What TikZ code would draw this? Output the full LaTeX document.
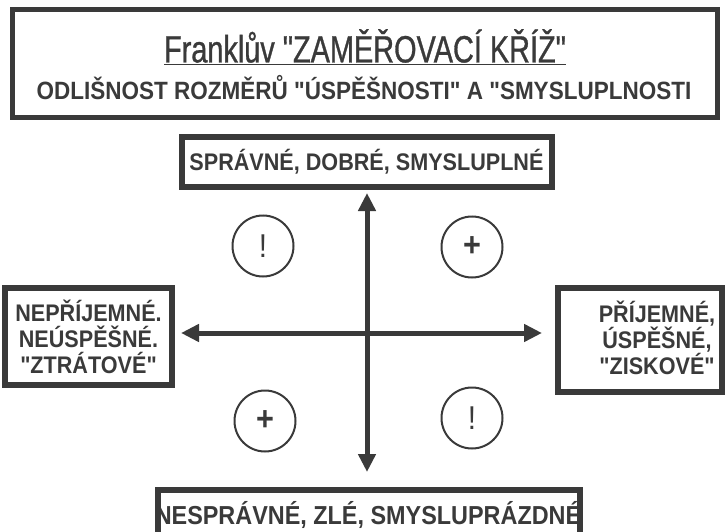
\documentclass[tikz,border=0pt]{standalone}
\usepackage{fontspec}
\setmainfont{Liberation Sans}[FakeStretch=0.9,Ligatures=TeXOff]
\newfontfamily\headfont{Liberation Sans}[FakeStretch=0.76,FakeBold=0.8,Ligatures=TeXOff]
\usepackage{tikz}
\usetikzlibrary{positioning,arrows.meta}

\definecolor{ink}{RGB}{58,58,58}

\tikzset{
  frame/.style={draw=ink,line width=6pt,fill=white,inner sep=0pt},
  boxlabel/.style={text=ink,font=\bfseries\fontsize{24}{26}\selectfont,align=center},
  sign/.style={draw=ink,line width=2pt,circle,minimum size=61pt,inner sep=0pt,text=ink},
  axis/.style={draw=ink,line width=5pt,{Triangle[length=18pt,width=17pt]}-{Triangle[length=18pt,width=17pt]}},
}

\begin{document}
\begin{tikzpicture}[x=1pt,y=-1pt]
\useasboundingbox (0,0) rectangle (725,532);
%%
\node (node_head) at (364.5,64) [frame,line width=5pt,minimum width=705pt,minimum height=108pt] {};
  \node (node_title) at (365,47) [text=ink,font=\headfont\fontsize{38}{40}\selectfont] {\underline{Franklův "ZAMĚŘOVACÍ KŘÍŽ"}};
  \node (node_subtitle) at (364,88) [boxlabel,font=\bfseries\fontsize{25}{27}\selectfont] {ODLIŠNOST ROZMĚRŮ "ÚSPĚŠNOSTI" A "SMYSLUPLNOSTI};
%
\node (node_top) at (366.5,162) [frame,boxlabel,minimum width=370pt,minimum height=50pt] {SPRÁVNÉ, DOBRÉ, SMYSLUPLNÉ};
  \node (node_bottom) at (369,515) [frame,minimum width=422pt,minimum height=50pt] {};
  \node (node_bottom_text) at (368,515) [boxlabel,font=\bfseries\fontsize{26}{26}\selectfont] {NESPRÁVNÉ, ZLÉ, SMYSLUPRÁZDNÉ};
  \node (node_left) at (88.5,336.5) [frame,boxlabel,minimum width=167pt,minimum height=97pt] {NEPŘÍJEMNÉ.\\NEÚSPĚŠNÉ.\\"ZTRÁTOVÉ"};
  \node (node_right) at (640,340) [frame,minimum width=164pt,minimum height=104pt] {};
  \node (node_right_text) at (657,338) [boxlabel] {PŘÍJEMNÉ,\\ÚSPĚŠNÉ,\\"ZISKOVÉ"};
%
\coordinate (cross) at (367,333);
  \draw [axis,shorten <=3pt,shorten >=15pt] (node_top.south -| cross) -- (node_bottom.north -| cross);
  \draw [axis,shorten <=6pt,shorten >=13pt] (node_left.east |- cross) -- (node_right.west |- cross);
%
\node (node_q1) at (263,246) [sign,font=\fontsize{33}{33}\selectfont] {!};
  \node (node_q2) at (472,247) [sign,font=\bfseries\fontsize{34}{34}\selectfont] {+};
  \node (node_q3) at (265,421) [sign,font=\bfseries\fontsize{34}{34}\selectfont] {+};
  \node (node_q4) at (472,418) [sign,font=\fontsize{33}{33}\selectfont] {!};
%
\end{tikzpicture}
\end{document}
